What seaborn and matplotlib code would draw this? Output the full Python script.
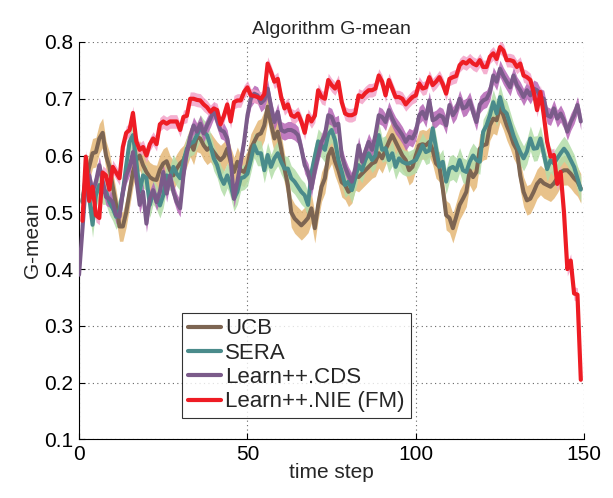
import numpy as np
import pandas as pd
import matplotlib
matplotlib.use("Agg")
import matplotlib.pyplot as plt
import seaborn as sns

# G-mean per time step
ucb_t = list(range(1, 150))
ucb = [0.52, 0.555, 0.58, 0.604, 0.606, 0.63, 0.64, 0.60, 0.58, 0.545,
       0.513, 0.475, 0.475, 0.50, 0.536, 0.571, 0.592, 0.60, 0.583, 0.571,
       0.562, 0.558, 0.557, 0.575, 0.586, 0.59, 0.574, 0.565, 0.577, 0.586,
       0.592, 0.607, 0.624, 0.61, 0.633, 0.63, 0.618, 0.61, 0.615, 0.606,
       0.598, 0.592, 0.598, 0.612, 0.589, 0.571, 0.589, 0.574, 0.571, 0.583,
       0.612, 0.624, 0.636, 0.639, 0.653, 0.686, 0.656, 0.63, 0.642, 0.612,
       0.577, 0.548, 0.50, 0.489, 0.483, 0.477, 0.483, 0.49, 0.507, 0.472,
       0.513, 0.545, 0.56, 0.60, 0.612, 0.59, 0.574, 0.553, 0.548, 0.536,
       0.542, 0.565, 0.562, 0.568, 0.574, 0.58, 0.586, 0.589, 0.604, 0.595,
       0.61, 0.624, 0.636, 0.624, 0.612, 0.60, 0.592, 0.574, 0.58, 0.60,
       0.618, 0.62, 0.618, 0.624, 0.61, 0.586, 0.58, 0.542, 0.495, 0.49,
       0.472, 0.492, 0.513, 0.524, 0.536, 0.574, 0.562, 0.571, 0.612, 0.618,
       0.62, 0.653, 0.665, 0.662, 0.685, 0.671, 0.653, 0.639, 0.621, 0.61,
       0.565, 0.536, 0.521, 0.524, 0.536, 0.55, 0.557, 0.551, 0.548, 0.545,
       0.551, 0.56, 0.571, 0.574, 0.574, 0.568, 0.56, 0.554, 0.542]

sera_t = list(range(1, 150))
sera = [0.518, 0.565, 0.527, 0.478, 0.53, 0.548, 0.536, 0.536, 0.518, 0.507,
        0.492, 0.504, 0.536, 0.583, 0.624, 0.636, 0.59, 0.536, 0.565, 0.56,
        0.513, 0.536, 0.527, 0.512, 0.53, 0.565, 0.56, 0.58, 0.568, 0.56,
        0.589, 0.612, 0.621, 0.624, 0.636, 0.65, 0.641, 0.636, 0.618, 0.595,
        0.583, 0.562, 0.55, 0.565, 0.548, 0.524, 0.536, 0.56, 0.562, 0.568,
        0.592, 0.618, 0.604, 0.604, 0.574, 0.601, 0.58, 0.595, 0.604, 0.589,
        0.577, 0.577, 0.56, 0.554, 0.545, 0.536, 0.53, 0.513, 0.57, 0.598,
        0.625, 0.618, 0.61, 0.637, 0.645, 0.627, 0.592, 0.572, 0.548, 0.554,
        0.539, 0.56, 0.583, 0.574, 0.592, 0.604, 0.592, 0.60, 0.636, 0.61,
        0.613, 0.592, 0.604, 0.58, 0.595, 0.589, 0.586, 0.586, 0.589, 0.592,
        0.604, 0.618, 0.606, 0.609, 0.648, 0.613, 0.58, 0.589, 0.554, 0.577,
        0.58, 0.574, 0.592, 0.574, 0.571, 0.589, 0.60, 0.592, 0.589, 0.642,
        0.653, 0.671, 0.694, 0.674, 0.703, 0.68, 0.674, 0.655, 0.635, 0.62,
        0.606, 0.595, 0.607, 0.63, 0.612, 0.613, 0.63, 0.603, 0.576, 0.592,
        0.586, 0.595, 0.604, 0.612, 0.604, 0.592, 0.58, 0.56, 0.54]

cds_t = list(range(0, 150))
cds = [0.39, 0.47, 0.55, 0.565, 0.536, 0.554, 0.583, 0.554, 0.527, 0.524,
       0.518, 0.495, 0.492, 0.536, 0.565, 0.58, 0.606, 0.56, 0.513, 0.536,
       0.48, 0.524, 0.539, 0.518, 0.536, 0.571, 0.533, 0.565, 0.536, 0.518,
       0.507, 0.565, 0.606, 0.633, 0.653, 0.642, 0.656, 0.639, 0.653, 0.665,
       0.68, 0.662, 0.645, 0.642, 0.63, 0.595, 0.524, 0.554, 0.589, 0.624,
       0.671, 0.70, 0.709, 0.706, 0.692, 0.698, 0.718, 0.686, 0.659, 0.677,
       0.645, 0.642, 0.645, 0.645, 0.642, 0.636, 0.612, 0.583, 0.571, 0.542,
       0.574, 0.60, 0.624, 0.636, 0.671, 0.668, 0.653, 0.656, 0.60, 0.58,
       0.565, 0.554, 0.577, 0.618, 0.589, 0.607, 0.624, 0.61, 0.636, 0.671,
       0.668, 0.659, 0.68, 0.665, 0.653, 0.645, 0.636, 0.624, 0.633, 0.63,
       0.642, 0.671, 0.677, 0.665, 0.697, 0.662, 0.665, 0.671, 0.668, 0.653,
       0.689, 0.671, 0.68, 0.70, 0.683, 0.686, 0.697, 0.677, 0.659, 0.69,
       0.697, 0.70, 0.712, 0.741, 0.73, 0.753, 0.74, 0.73, 0.72, 0.741,
       0.724, 0.715, 0.703, 0.715, 0.706, 0.718, 0.715, 0.703, 0.70, 0.671,
       0.668, 0.683, 0.665, 0.674, 0.662, 0.642, 0.659, 0.671, 0.689, 0.66]

nie_t = list(range(1, 150))
nie = [0.485, 0.598, 0.52, 0.545, 0.495, 0.49, 0.57, 0.565, 0.54, 0.58,
       0.57, 0.56, 0.615, 0.64, 0.645, 0.675, 0.625, 0.61, 0.615, 0.60,
       0.62, 0.63, 0.62, 0.655, 0.66, 0.656, 0.66, 0.66, 0.66, 0.645,
       0.668, 0.67, 0.70, 0.70, 0.698, 0.697, 0.69, 0.685, 0.677, 0.683,
       0.68, 0.655, 0.67, 0.69, 0.66, 0.694, 0.697, 0.697, 0.712, 0.72,
       0.706, 0.705, 0.703, 0.70, 0.708, 0.762, 0.747, 0.73, 0.735, 0.703,
       0.683, 0.69, 0.671, 0.668, 0.674, 0.66, 0.64, 0.67, 0.66, 0.67,
       0.715, 0.703, 0.70, 0.733, 0.724, 0.718, 0.73, 0.694, 0.674, 0.671,
       0.671, 0.674, 0.706, 0.703, 0.71, 0.715, 0.715, 0.718, 0.741, 0.73,
       0.706, 0.733, 0.718, 0.703, 0.703, 0.70, 0.69, 0.697, 0.703, 0.706,
       0.727, 0.718, 0.72, 0.738, 0.724, 0.73, 0.738, 0.726, 0.709, 0.735,
       0.738, 0.74, 0.759, 0.765, 0.762, 0.768, 0.762, 0.759, 0.768, 0.756,
       0.756, 0.774, 0.78, 0.77, 0.791, 0.785, 0.768, 0.768, 0.766, 0.756,
       0.762, 0.741, 0.738, 0.733, 0.712, 0.68, 0.712, 0.671, 0.624, 0.598,
       0.601, 0.55, 0.571, 0.50, 0.40, 0.415, 0.357, 0.355, 0.205]

labels = ["UCB", "SERA", "Learn++.CDS", "Learn++.NIE (FM)"]
line_colors = ["#7d6552", "#4a8b8b", "#7b5b8a", "#ee1c24"]
band_colors = ["#e5b877", "#b3dda8", "#b565b5", "#f3a2c8"]
band_half = [0.026, 0.022, 0.015, 0.012]

series = [(ucb_t, ucb), (sera_t, sera), (cds_t, cds), (nie_t, nie)]

frames = []
for name, (t, v) in zip(labels, series):
    frames.append(pd.DataFrame({"time step": t, "G-mean": v, "method": name}))
df = pd.concat(frames, ignore_index=True)

sns.set_style("white")
plt.rcParams["font.family"] = ["Liberation Sans", "DejaVu Sans"]

fig = plt.figure(figsize=(6.13, 4.98), dpi=100)
ax = fig.add_axes([0.129, 0.1177, 0.824, 0.798])

# shaded bands first, lines on top
for (t, v), c, h in zip(series, band_colors, band_half):
    v = np.asarray(v)
    ax.fill_between(t, v - h, v + h, color=c, alpha=0.85, lw=0, zorder=1)

sns.lineplot(data=df, x="time step", y="G-mean", hue="method",
             hue_order=labels, palette=line_colors, errorbar=None,
             linewidth=2.9, ax=ax, zorder=3)
for ln in ax.get_lines():
    if ln.get_color().lower() == "#ee1c24":
        ln.set_linewidth(3.0)
        ln.set_zorder(4)

ax.set_xlim(0, 150)
ax.set_ylim(0.1, 0.8)
ax.set_xticks([0, 50, 100, 150])
ax.set_yticks(np.arange(0.1, 0.81, 0.1))
ax.set_yticklabels([f"{y:.1f}" for y in np.arange(0.1, 0.81, 0.1)])
ax.grid(True, linestyle=(0, (1, 3)), color="#666666", linewidth=0.8)
ax.set_axisbelow(True)
for s in ["top", "right"]:
    ax.spines[s].set_visible(False)
for s in ["left", "bottom"]:
    ax.spines[s].set_color("black")
    ax.spines[s].set_linewidth(0.8)
ax.tick_params(direction="in", length=4, width=0.8, labelsize=15, pad=4,
               left=True, bottom=True, colors="black")

ax.set_title("Algorithm G-mean", fontsize=14, pad=6)
ax.set_xlabel("time step", fontsize=15, labelpad=-1)
ax.set_ylabel("G-mean", fontsize=15, labelpad=2)

leg = ax.legend(loc="lower left", bbox_to_anchor=(0.204, 0.054),
                fontsize=16, frameon=True, fancybox=False,
                handlelength=1.5, handletextpad=0.2, labelspacing=0.15,
                borderpad=0.25, borderaxespad=0)
leg.get_frame().set_edgecolor("black")
leg.get_frame().set_linewidth(0.8)
for h in leg.get_lines():
    h.set_linewidth(3.0)

fig.savefig("out.png", dpi=100)
